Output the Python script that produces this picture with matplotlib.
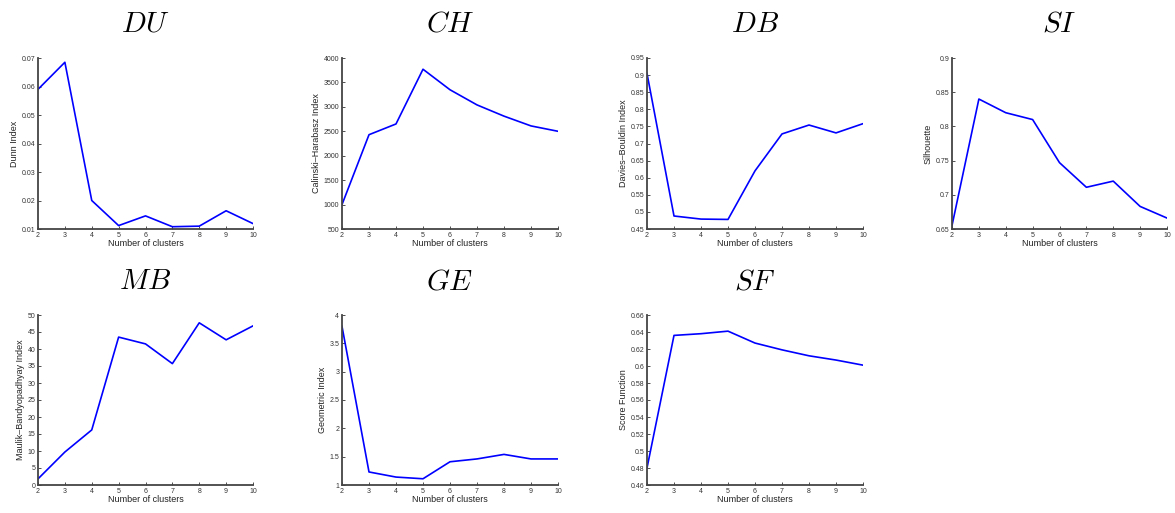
import matplotlib
matplotlib.use('Agg')
import matplotlib.pyplot as plt
from matplotlib.ticker import FormatStrFormatter, MultipleLocator

plt.rcParams['font.family'] = ['Liberation Sans', 'DejaVu Sans']
plt.rcParams['mathtext.fontset'] = 'cm'

clusters = [2, 3, 4, 5, 6, 7, 8, 9, 10]

du = [0.059, 0.0685, 0.020, 0.0112, 0.0146, 0.0108, 0.011, 0.0164, 0.0119]
ch = [1000, 2430, 2650, 3770, 3350, 3040, 2810, 2610, 2500]
db = [0.905, 0.488, 0.479, 0.478, 0.62, 0.728, 0.754, 0.731, 0.758]
si = [0.655, 0.84, 0.82, 0.81, 0.747, 0.711, 0.72, 0.683, 0.666]
mb = [1.8, 9.7, 16.2, 43.5, 41.5, 35.7, 47.7, 42.7, 46.8]
ge = [3.8, 1.23, 1.14, 1.11, 1.41, 1.46, 1.54, 1.46, 1.46]
sf = [0.48, 0.636, 0.638, 0.641, 0.627, 0.619, 0.612, 0.607, 0.601]

titles = ['DU', 'CH', 'DB', 'SI', 'MB', 'GE', 'SF']
ylabels = ['Dunn Index', 'Calinski\u2013Harabasz Index', 'Davies\u2013Bouldin Index',
           'Silhouette', 'Maulik\u2013Bandyopadhyay Index', 'Geometric Index',
           'Score Function']
series = [du, ch, db, si, mb, ge, sf]
ylims = [(0.01, 0.07), (500, 4000), (0.45, 0.95), (0.65, 0.9), (0, 50), (1, 4), (0.46, 0.66)]
ysteps = [0.01, 500, 0.05, 0.05, 5, 0.5, 0.02]

W, H = 1175, 513
# axes boxes in pixels: left, top, right, bottom
boxes = [(38, 58, 253, 229), (342, 58, 558, 229), (647, 58, 863, 229), (952, 58, 1167, 229),
         (38, 315, 253, 485), (342, 315, 558, 485), (647, 315, 863, 485)]

fig = plt.figure(figsize=(W / 100, H / 100), dpi=100)

for i in range(len(series)):
    l, t, r, b = boxes[i]
    ax = fig.add_axes([l / W, (H - b) / H, (r - l) / W, (b - t) / H])
    ax.plot(clusters, series[i], color=(0, 0, 1), lw=1.2)
    ax.set_xlim(2, 10)
    ax.set_ylim(*ylims[i])
    ax.set_xticks(clusters)
    ax.yaxis.set_major_locator(MultipleLocator(ysteps[i]))
    ax.yaxis.set_major_formatter(FormatStrFormatter('%g'))
    ax.spines['top'].set_visible(False)
    ax.spines['right'].set_visible(False)
    for s in ['left', 'bottom']:
        ax.spines[s].set_color('#444444')
        ax.spines[s].set_linewidth(1.3)
    ax.tick_params(direction='in', length=2.5, width=0.6, labelsize=5,
                   colors='#333333', pad=2)
    ax.set_xlabel('Number of clusters', fontsize=6.5, labelpad=0.5, color='#222222')
    ax.set_ylabel(ylabels[i], fontsize=6.5, labelpad=2, color='#222222')
    # title baseline sits ~26px above the axes top
    fig.text((l + r) / 2 / W, 1 - (t - 26) / H, '$' + titles[i] + '$',
             fontsize=21, ha='center', va='baseline')

fig.savefig('out.png', dpi=100)
